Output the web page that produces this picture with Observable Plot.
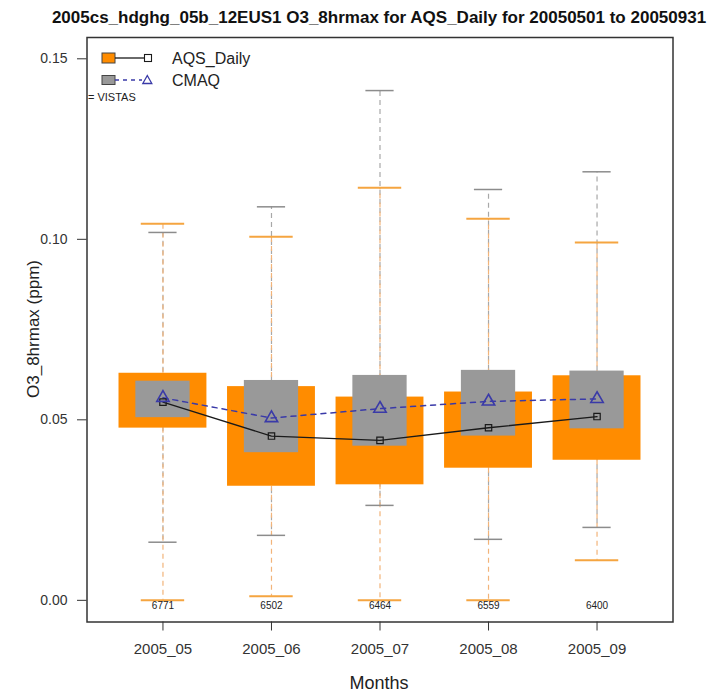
<!DOCTYPE html>
<html><head><meta charset="utf-8">
<script src="https://cdn.jsdelivr.net/npm/d3@7"></script>
<script src="https://cdn.jsdelivr.net/npm/@observablehq/plot@0.6"></script>
<style>
body{margin:0;background:#fff;}
#wrap{position:relative;width:717px;height:696px;font-family:"Liberation Sans",Arial,Helvetica,sans-serif;}
#wrap svg{position:absolute;left:0;top:0;}
</style></head>
<body><div id="wrap"></div>
<script>
// ---- data ----
const months = ["2005_05", "2005_06", "2005_07", "2005_08", "2005_09"];
const counts = [6771, 6502, 6464, 6559, 6400];
// AQS_Daily (observed) box statistics
const obsLow  = [0.0000, 0.0011, 0.0000, 0.0000, 0.0111];
const obsQ1   = [0.0477, 0.0316, 0.0320, 0.0366, 0.0388];
const obsMid  = [0.0549, 0.0455, 0.0443, 0.0478, 0.0509];
const obsQ3   = [0.0629, 0.0592, 0.0563, 0.0577, 0.0622];
const obsHigh = [0.1043, 0.1007, 0.1143, 0.1057, 0.0991];
// CMAQ (model) box statistics
const modLow  = [0.0161, 0.0180, 0.0263, 0.0169, 0.0202];
const modQ1   = [0.0506, 0.0409, 0.0427, 0.0455, 0.0475];
const modMid  = [0.0561, 0.0505, 0.0531, 0.0551, 0.0558];
const modQ3   = [0.0607, 0.0609, 0.0623, 0.0637, 0.0635];
const modHigh = [0.1019, 0.1090, 0.1412, 0.1138, 0.1187];
const yTicks = [0, 0.05, 0.10, 0.15];
const seriesNames = ["AQS_Daily", "CMAQ"];
const titleText = "2005cs_hdghg_05b_12EUS1 O3_8hrmax for AQS_Daily for 20050501 to 20050931";
const yLabel = "O3_8hrmax (ppm)";
const xLabel = "Months";
const noteText = "= VISTAS";

// ---- styles ----
const ORANGE = "#ff8c00", GRAY = "#999999", NAVY = "#3a3aa8";
const OBOX = 0.405, MBOX = 0.25, OCAP = 0.2, MCAP = 0.13;

const rows = months.map((m, k) => ({
  i: k + 1, month: m, n: counts[k],
  olo: obsLow[k], oq1: obsQ1[k], omid: obsMid[k], oq3: obsQ3[k], ohi: obsHigh[k],
  mlo: modLow[k], mq1: modQ1[k], mmid: modMid[k], mq3: modQ3[k], mhi: modHigh[k]
}));

const W = 717, H = 696;
const chart = Plot.plot({
  width: W, height: H,
  marginTop: 37, marginBottom: 74.5, marginLeft: 86.5, marginRight: 44.5,
  x: {type: "linear", domain: [0.3, 5.7]},
  y: {domain: [-0.006, 0.1559]},
  style: {fontFamily: "'Liberation Sans', Arial, Helvetica, sans-serif", background: "white", color: "#333"},
  marks: [
    // whiskers: model (gray) then obs (orange) on top
    Plot.ruleX(rows, {x: "i", y1: "mq3", y2: "mhi", stroke: "#a8a8a8", strokeWidth: 1.2, strokeDasharray: "5,4"}),
    Plot.ruleX(rows, {x: "i", y1: "mq1", y2: "mlo", stroke: "#a8a8a8", strokeWidth: 1.2, strokeDasharray: "5,4"}),
    Plot.ruleX(rows, {x: "i", y1: "oq3", y2: "ohi", stroke: "#f2b47a", strokeWidth: 1.2, strokeDasharray: "5,4"}),
    Plot.ruleX(rows, {x: "i", y1: "oq1", y2: "olo", stroke: "#f2b47a", strokeWidth: 1.2, strokeDasharray: "5,4"}),
    // caps
    Plot.ruleY(rows, {y: "ohi", x1: d => d.i - OCAP, x2: d => d.i + OCAP, stroke: "#f5a540", strokeWidth: 2}),
    Plot.ruleY(rows, {y: "olo", x1: d => d.i - OCAP, x2: d => d.i + OCAP, stroke: "#f5a540", strokeWidth: 2}),
    Plot.ruleY(rows, {y: "mhi", x1: d => d.i - MCAP, x2: d => d.i + MCAP, stroke: "#8c8c8c", strokeWidth: 1.5}),
    Plot.ruleY(rows, {y: "mlo", x1: d => d.i - MCAP, x2: d => d.i + MCAP, stroke: "#8c8c8c", strokeWidth: 1.5}),
    // boxes
    Plot.rect(rows, {x1: d => d.i - OBOX, x2: d => d.i + OBOX, y1: "oq1", y2: "oq3", fill: ORANGE}),
    Plot.rect(rows, {x1: d => d.i - MBOX, x2: d => d.i + MBOX, y1: "mq1", y2: "mq3", fill: GRAY}),
    // lines and markers
    Plot.line(rows, {x: "i", y: "omid", stroke: "#1a1a1a", strokeWidth: 1.3}),
    Plot.line(rows, {x: "i", y: "mmid", stroke: NAVY, strokeWidth: 1.5, strokeDasharray: "5,5"}),
    Plot.dot(rows, {x: "i", y: "omid", symbol: "square", r: 3.6, stroke: "#1a1a1a", fill: "none", strokeWidth: 1.2}),
    Plot.dot(rows, {x: "i", y: "mmid", symbol: "triangle", r: 4.6, stroke: NAVY, fill: "none", strokeWidth: 1.6}),
    // counts
    Plot.text(rows, {x: "i", y: () => 0, text: d => String(d.n), dy: 5, fontSize: 10, fill: "#222"}),
    // axes and frame
    Plot.axisX({ticks: [1, 2, 3, 4, 5], tickFormat: v => months[v - 1], tickSize: 9, tickPadding: 12, fontSize: 15, label: null, stroke: "#333", fill: "#333"}),
    Plot.axisY({ticks: yTicks, tickFormat: d3.format(".2f"), tickSize: 9.5, tickPadding: 10, fontSize: 14, label: null, stroke: "#333", fill: "#333"}),
    Plot.frame({stroke: "#333", strokeWidth: 1.5})
  ]
});
const wrap = document.getElementById("wrap");
wrap.appendChild(chart);

// overlay: title, axis titles, legend
const ns = "http://www.w3.org/2000/svg";
const ov = document.createElementNS(ns, "svg");
ov.setAttribute("width", W); ov.setAttribute("height", H);
ov.style.pointerEvents = "none";
function el(tag, attrs, txt) {
  const e = document.createElementNS(ns, tag);
  for (const k in attrs) e.setAttribute(k, attrs[k]);
  if (txt != null) e.textContent = txt;
  ov.appendChild(e); return e;
}
const FF = "'Liberation Sans', Arial, Helvetica, sans-serif";
el("text", {x: 379, y: 23, "text-anchor": "middle", "font-family": FF, "font-weight": "bold", "font-size": 17, fill: "#111"}, titleText);
el("text", {x: 39, y: 329, "text-anchor": "middle", "font-family": FF, "font-size": 17, fill: "#222", transform: "rotate(-90 39 329)"}, yLabel);
el("text", {x: 379, y: 689, "text-anchor": "middle", "font-family": FF, "font-size": 18, fill: "#222"}, xLabel);
// legend row 1
el("rect", {x: 102, y: 53, width: 13, height: 10, fill: ORANGE, stroke: "#444", "stroke-width": 1});
el("line", {x1: 115, y1: 58, x2: 145, y2: 58, stroke: "#1a1a1a", "stroke-width": 1.3});
el("rect", {x: 144.5, y: 54.5, width: 7, height: 7, fill: "white", stroke: "#1a1a1a", "stroke-width": 1.1});
el("text", {x: 172, y: 64, "font-family": FF, "font-size": 16, fill: "#222"}, seriesNames[0]);
// legend row 2
el("rect", {x: 102, y: 75.5, width: 13, height: 9, fill: GRAY, stroke: "#444", "stroke-width": 1});
el("line", {x1: 115, y1: 80, x2: 142, y2: 80, stroke: NAVY, "stroke-width": 1.3, "stroke-dasharray": "4,4"});
el("path", {d: "M147.3,75.5 L151.8,83.5 L142.8,83.5 Z", fill: "none", stroke: NAVY, "stroke-width": 1.3});
el("text", {x: 172, y: 86, "font-family": FF, "font-size": 16, fill: "#222"}, seriesNames[1]);
el("text", {x: 88, y: 101, "font-family": FF, "font-size": 11, fill: "#222"}, noteText);
wrap.appendChild(ov);
</script>
</body></html>
